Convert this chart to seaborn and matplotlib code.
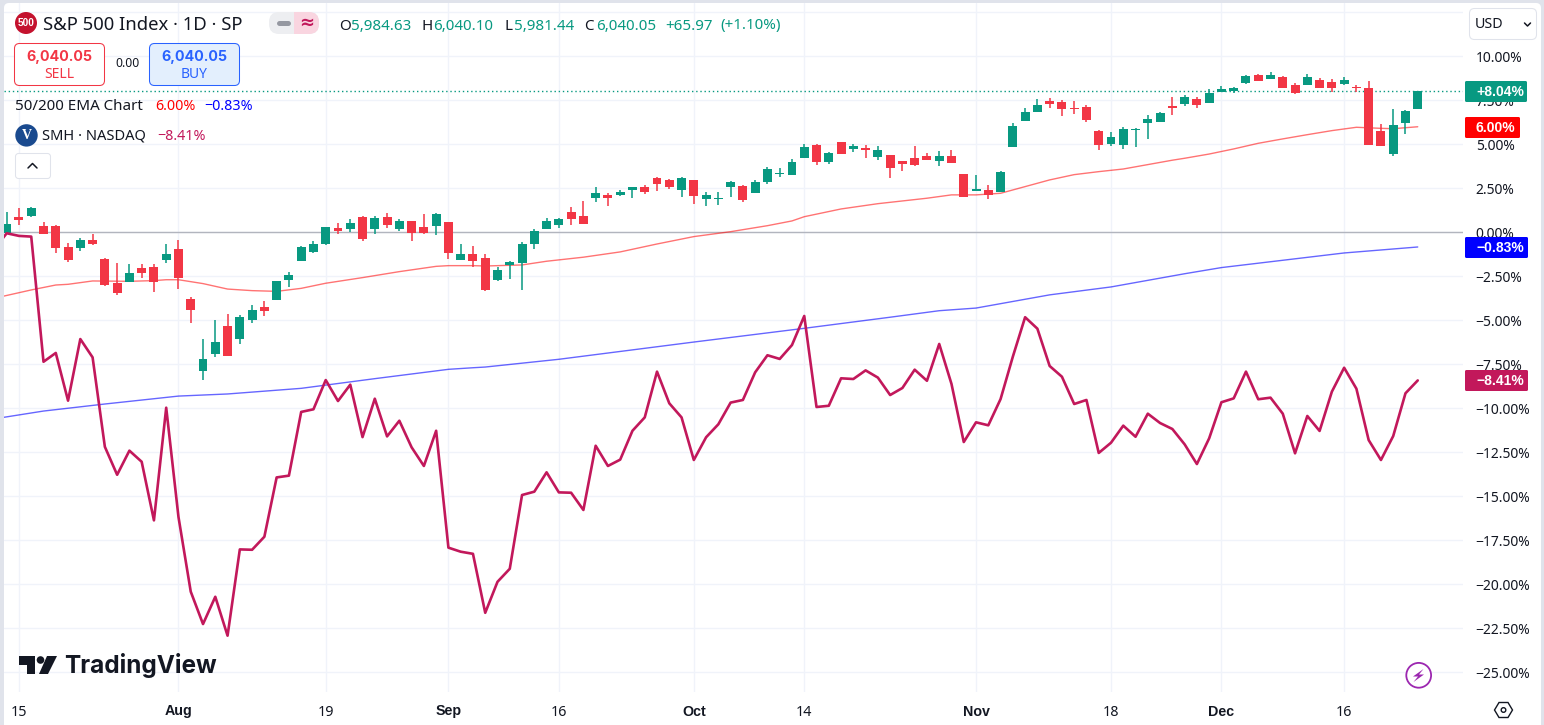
import matplotlib
matplotlib.use('Agg')
import matplotlib.pyplot as plt
import pandas as pd
import seaborn as sns
from matplotlib.patches import Circle, FancyBboxPatch, Polygon
from matplotlib.lines import Line2D
from matplotlib.transforms import IdentityTransform

# all values are % change (first bar sits under the left edge)
opens = [-0.02, 0.88, 0.93, 0.36, 0.36, -0.83, -0.89, -0.43, -1.51, -2.88, -2.82, -2.02, -1.97, -1.57, -0.94, -3.78,
         -7.88, -6.91, -5.32, -6.06, -4.98, -4.24, -3.84, -2.70, -1.63, -1.11, -0.66, 0.25, 0.19, 0.88, 0.19, 0.88,
         0.19, 0.65, 0.31, 0.36, 0.59, -1.57, -1.23, -1.45, -2.70, -1.85, -1.74, -0.66, 0.19, 0.42, 1.16, 0.93,
         1.95, 2.13, 2.13, 2.41, 2.58, 3.09, 2.98, 2.41, 2.98, 1.90, 1.90, 2.58, 2.64, 2.24, 2.86, 3.32,
         3.26, 4.23, 4.97, 4.00, 5.14, 4.74, 4.80, 4.28, 4.40, 4.06, 4.23, 4.34, 4.06, 4.34, 3.32, 2.35,
         2.41, 2.30, 4.85, 6.33, 6.84, 7.47, 7.41, 7.07, 7.13, 5.76, 5.02, 4.97, 5.84, 6.22, 6.27, 7.18,
         7.30, 7.58, 7.35, 7.98, 8.03, 8.49, 8.94, 8.72, 8.83, 8.38, 8.38, 8.66, 8.55, 8.43, 8.26, 8.20,
         5.76, 4.45, 6.22, 7.01]
highs = [1.16, 1.39, 1.44, 0.59, 0.42, -0.60, -0.32, -0.09, -1.45, -1.74, -1.80, -1.80, -1.80, -0.66, -0.43, -3.67,
         -6.06, -4.98, -4.64, -4.69, -4.13, -3.90, -2.76, -2.25, -0.77, -0.49, 0.31, 0.53, 0.76, 0.93, 0.93, 1.10,
         0.76, 0.65, 1.05, 1.10, 0.59, -0.66, -0.77, -1.23, -1.97, -1.63, -0.55, 0.19, 0.82, 0.82, 1.44, 1.78,
         2.58, 2.24, 2.41, 2.58, 2.69, 3.15, 3.03, 3.15, 2.98, 2.30, 2.30, 2.92, 2.69, 2.98, 3.72, 3.66,
         4.17, 5.02, 5.02, 4.57, 5.14, 5.02, 4.97, 4.91, 4.40, 4.06, 4.91, 4.51, 4.62, 4.68, 3.32, 3.26,
         2.69, 3.49, 6.22, 7.07, 7.58, 7.64, 7.52, 7.47, 7.24, 5.82, 5.70, 5.99, 5.93, 6.67, 6.84, 7.69,
         7.81, 7.69, 8.15, 8.32, 8.26, 8.94, 9.00, 9.11, 8.89, 8.49, 9.00, 8.77, 8.72, 8.83, 8.38, 8.60,
         6.16, 7.01, 6.95, 8.04]
lows = [-0.03, 0.42, 0.88, -0.09, -1.17, -1.68, -1.06, -0.72, -3.05, -3.56, -2.82, -2.59, -3.39, -1.74, -3.22, -5.15,
        -8.39, -7.08, -7.02, -6.34, -5.15, -4.75, -3.84, -3.10, -1.63, -1.17, -0.72, -0.09, 0.02, -0.49, -0.09, 0.25,
        0.08, -0.49, -0.09, -0.15, -1.51, -1.57, -1.97, -3.33, -2.76, -2.65, -3.27, -0.94, 0.19, 0.25, 0.42, 0.48,
        1.73, 1.50, 2.07, 1.95, 2.18, 2.35, 2.47, 2.01, 1.61, 1.50, 1.56, 2.01, 1.73, 2.24, 2.75, 3.15,
        3.26, 4.23, 3.83, 3.89, 4.45, 4.57, 4.23, 4.11, 3.09, 3.49, 3.77, 4.11, 3.77, 3.94, 2.01, 2.35,
        1.90, 2.30, 4.85, 6.33, 6.84, 7.07, 6.61, 6.73, 6.27, 4.68, 4.91, 4.74, 4.85, 5.31, 6.27, 6.67,
        7.18, 7.07, 7.35, 7.98, 7.92, 8.43, 8.60, 8.72, 8.20, 7.86, 8.38, 8.20, 7.98, 8.38, 7.98, 4.97,
        4.91, 4.34, 5.59, 7.01]
closes = [0.48, 0.70, 1.39, -0.09, -0.89, -1.57, -0.43, -0.66, -2.99, -3.44, -2.31, -2.31, -2.82, -1.23, -2.59, -4.41,
          -7.19, -6.23, -7.02, -4.81, -4.41, -4.47, -2.76, -2.42, -0.83, -0.66, 0.31, 0.08, 0.53, -0.38, 0.82, 0.42,
          0.65, -0.03, -0.03, 1.05, -1.17, -1.23, -1.63, -3.27, -2.14, -1.68, -0.66, 0.08, 0.65, 0.76, 0.76, 0.48,
          2.24, 1.95, 2.30, 2.58, 2.30, 2.75, 2.58, 3.09, 2.07, 2.13, 1.95, 2.86, 1.84, 2.86, 3.60, 3.38,
          4.00, 4.85, 4.00, 4.51, 4.45, 4.91, 4.68, 4.68, 3.66, 3.89, 3.83, 4.11, 4.34, 3.94, 2.01, 2.47,
          2.13, 3.43, 6.05, 6.84, 7.24, 7.30, 7.01, 7.01, 6.39, 4.97, 5.42, 5.88, 5.90, 6.44, 6.78, 7.07,
          7.69, 7.24, 7.92, 8.15, 8.20, 8.89, 8.60, 8.94, 8.20, 7.92, 8.83, 8.20, 8.20, 8.66, 8.20, 4.97,
          4.91, 6.10, 6.90, 8.04]

# SMH overlay, one value per bar, the first one is off the left edge
smh = [-0.94, -0.05, -0.20, -0.24, -7.35, -6.85, -9.56, -6.06, -7.10, -12.18, -13.77, -12.40, -13.03, -16.36, -9.96, -16.17,
       -20.41, -22.25, -20.70, -22.91, -18.01, -18.03, -17.29, -13.92, -13.82, -10.20, -10.05, -8.39, -9.58, -8.65, -11.63, -9.45,
       -11.59, -10.70, -12.21, -13.27, -11.27, -17.91, -18.14, -18.26, -21.61, -19.85, -19.11, -14.92, -14.73, -13.63, -14.77, -14.79,
       -15.77, -12.12, -13.27, -12.91, -11.27, -10.51, -7.91, -9.71, -10.51, -12.93, -11.64, -10.90, -9.67, -9.52, -7.95, -6.98,
       -7.19, -6.40, -4.75, -9.92, -9.85, -8.29, -8.33, -7.84, -8.25, -9.24, -8.84, -7.80, -8.43, -6.34, -8.61, -11.91,
       -10.79, -10.96, -9.47, -7.06, -4.82, -5.47, -7.59, -8.20, -9.75, -9.52, -12.53, -11.95, -10.98, -11.61, -10.30, -10.83,
       -11.17, -12.04, -13.16, -11.70, -9.65, -9.43, -7.91, -9.48, -9.39, -10.30, -12.55, -10.43, -11.28, -9.05, -7.69, -8.88,
       -11.80, -12.93, -11.57, -9.14, -8.41]

# EMAs read at the bars where the curve bends
ema50_bars = [-1, 2, 4, 5, 7, 10, 12, 13, 14, 15, 16, 18, 20, 22, 24, 26, 29, 32, 35, 36, 38, 39, 42, 44, 47, 50, 53, 56,
              59, 62, 64, 65, 68, 71, 75, 77, 79, 81, 83, 85, 87, 89, 91, 93, 95, 96, 98, 100, 102, 104, 106, 108, 110,
              112, 113, 115]
ema50 = [-3.74, -3.27, -2.99, -2.95, -2.76, -2.78, -2.74, -2.69, -2.69, -2.80, -2.91, -3.22, -3.31, -3.35, -3.18, -2.89,
         -2.57, -2.23, -1.93, -1.89, -1.89, -1.91, -1.85, -1.64, -1.41, -1.11, -0.66, -0.24, 0.04, 0.38, 0.65, 0.89, 1.33,
         1.63, 1.94, 2.13, 2.13, 2.22, 2.60, 2.98, 3.28, 3.45, 3.60, 3.85, 4.10, 4.21, 4.45, 4.74, 5.06, 5.31, 5.55, 5.78,
         5.97, 5.91, 5.89, 6.00]
ema200_bars = [-1, 3, 8, 14, 18, 24, 30, 36, 38, 39, 45, 56, 65, 72, 76, 79, 81, 85, 90, 96, 99, 109, 115]
ema200 = [-10.59, -10.15, -9.75, -9.30, -9.18, -8.86, -8.31, -7.78, -7.69, -7.65, -7.21, -6.23, -5.45, -4.82, -4.45,
          -4.30, -4.05, -3.55, -3.10, -2.35, -2.00, -1.17, -0.83]

tick_bars = [1, 14, 26, 36, 45, 56, 65, 79, 90, 99, 109]
tick_labels = ['15', 'Aug', '19', 'Sep', '16', 'Oct', '14', 'Nov', '18', 'Dec', '16']
month_labels = ['Aug', 'Sep', 'Oct', 'Nov', 'Dec']
pct_ticks = [-25, -22.5, -20, -17.5, -15, -12.5, -10, -7.5, -5, -2.5, 0, 2.5, 5, 7.5, 10, 12.5]
last_price_pct = 8.04

GREEN = '#089981'
RED = '#F23645'
PINK = '#C2185B'
INK = '#131722'
GRID = '#F0F3FA'
W, H = 1544, 725
FONT = 'Noto Sans'
BOLD = 'Liberation Sans'

sns.set_theme(style='white')
plt.rcParams['font.family'] = [FONT, 'DejaVu Sans']

candles = pd.DataFrame({'open': opens, 'high': highs, 'low': lows, 'close': closes})
candles['bar'] = candles.index
candles['color'] = [GREEN if c >= o else RED for o, c in zip(opens, closes)]
smh_df = pd.DataFrame({'bar': range(-1, len(smh) - 1), 'pct': smh})


def fx(x):
    return x / W


def fy(y):
    return 1 - y / H


def tx(x, y, s, **kw):
    kw.setdefault('va', 'center')
    kw.setdefault('color', INK)
    kw.setdefault('fontsize', 10)
    kw.setdefault('zorder', 5)
    return fig.text(fx(x), fy(y), s, **kw)


def pixel_patch(p, z=4):
    # interface bits are placed in screen pixels
    p.set_transform(IdentityTransform())
    p.set_zorder(z)
    fig.add_artist(p)


def box(x0, y0, x1, y1, face, edge='none', rad=0.0, lw=0.75, z=3):
    p = FancyBboxPatch((x0, H - y1), x1 - x0, y1 - y0, boxstyle='round,pad=0,rounding_size=%s' % rad,
                       facecolor=face, edgecolor=edge, linewidth=lw)
    pixel_patch(p, z)


def pixel_line(xs, ys, color, lw=1.0, z=4):
    fig.add_artist(Line2D(xs, [H - y for y in ys], color=color, linewidth=lw, zorder=z,
                          transform=IdentityTransform(),
                          solid_capstyle='round', solid_joinstyle='round'))


fig = plt.figure(figsize=(W / 100, H / 100), dpi=100, facecolor='#E0E3EB')
box(4, 3, 1541, 740, 'white', rad=5, z=-1)
ax = fig.add_axes([fx(4), fy(692), fx(1463 - 4), (692 - 3) / H])
ax.set_facecolor('none')

# grid and zero line
ax.set_xticks(tick_bars)
ax.set_xticklabels(tick_labels)
ax.set_yticks(pct_ticks)
ax.set_yticklabels([('%.2f%%' % v).replace('-', '\u2212') if v < 12 else '' for v in pct_ticks])
ax.grid(True, color=GRID, linewidth=1.0)
ax.set_axisbelow(True)
ax.yaxis.tick_right()
ax.tick_params(axis='y', length=0, pad=9.2, labelsize=10.0, labelcolor=INK)
ax.tick_params(axis='x', length=0, pad=9.0, labelsize=10.3, labelcolor=INK)
for lab in ax.get_xticklabels():
    if lab.get_text() in month_labels:
        lab.set_fontfamily(BOLD)
        lab.set_fontweight('bold')
for side in ax.spines:
    ax.spines[side].set_visible(False)
ax.axhline(0, color='#B2B5BE', linewidth=1.0, zorder=1)

# lines
sns.lineplot(x=ema50_bars, y=ema50, ax=ax, color='#FF0000', alpha=0.55, linewidth=1.0, errorbar=None, zorder=2)
sns.lineplot(x=ema200_bars, y=ema200, ax=ax, color='#0000FF', alpha=0.6, linewidth=1.0, errorbar=None, zorder=2)

# candles
ax.vlines(candles['bar'], candles['low'], candles['high'], colors=candles['color'], linewidth=1.1, zorder=3)
ax.bar(candles['bar'], candles['close'] - candles['open'], bottom=candles['open'], width=0.73,
       color=candles['color'], linewidth=0, zorder=3)

sns.lineplot(data=smh_df, x='bar', y='pct', ax=ax, color=PINK, linewidth=1.9, errorbar=None, zorder=4)
ax.axhline(last_price_pct, color=GREEN, linewidth=1.0, linestyle=(0, (1, 2)), zorder=2)

ax.set_xlabel('')
ax.set_ylabel('')
ax.set_xlim((4 - 6.7) / 12.27, (1463 - 6.7) / 12.27)
ax.set_ylim(-26.11, 13.03)

# header
pixel_patch(Circle((26, H - 23), 11, facecolor='#C4122E', edgecolor='none'))
tx(26, 23.5, '500', color='white', fontsize=7.3, family=BOLD, fontweight='bold', ha='center')
tx(43, 25, 'S&P 500 Index \u00b7 1D \u00b7 SP', fontsize=13.3)
box(269, 12, 319, 34, '#EDEEF1', rad=10)
box(294, 12, 319, 34, '#F9D5E0', rad=10, z=3.1)
box(294, 12, 305, 34, '#F9D5E0', rad=0, z=3.2)
pixel_line([278.5, 287.5], [23, 23], '#9598A1', lw=3.6)
tx(306.5, 23, '\u2248', color=PINK, fontsize=13, ha='center', fontweight='bold')

ohlc_parts = [(339, 'O', INK), (351.5, '5,984.63', GREEN), (421, 'H', INK), (433.5, '6,040.10', GREEN),
              (505, 'L', INK), (514, '5,981.44', GREEN), (584.5, 'C', INK), (596, '6,040.05', GREEN),
              (665, '+65.97', GREEN), (720, '(+1.10%)', GREEN)]
for x, s, c in ohlc_parts:
    tx(x, 29.5, s, color=c, fontsize=10.9, va='baseline')

box(14.5, 43.5, 104.5, 85.5, 'white', RED, rad=5)
tx(59.5, 57, '6,040.05', color=RED, family='Inter', fontweight='bold', fontsize=10.3, ha='center')
tx(59.5, 74.5, 'SELL', color=RED, fontsize=10, ha='center')
tx(127, 63.5, '0.00', fontsize=8.8, ha='center')
box(149.5, 43.5, 239.5, 85.5, '#E3EFFD', '#2962FF', rad=5)
tx(194.5, 57, '6,040.05', color='#2962FF', family='Inter', fontweight='bold', fontsize=10.3, ha='center')
tx(194.5, 74.5, 'BUY', color='#2962FF', fontsize=10, ha='center')

tx(15.5, 106.5, '50/200 EMA Chart', fontsize=10.9)
tx(155, 106.5, '6.00%', color='#FF0000', fontsize=10.3)
tx(204, 106.5, '\u22120.83%', color='#0000FF', fontsize=10.3)

pixel_patch(Circle((26.5, H - 135.4), 11.2, facecolor='#1A4A8F', edgecolor='none'))
tx(26.5, 135.5, 'V', color='white', fontsize=10, fontweight='bold', ha='center', family='Liberation Serif')
tx(42.5, 136, 'SMH \u00b7 NASDAQ', fontsize=10.6)
tx(157, 136, '\u22128.41%', color=PINK, fontsize=10.3)

box(15.5, 153.5, 50.5, 178.5, 'white', '#E0E3EB', rad=3)
pixel_line([28, 32.5, 37], [168, 163.5, 168], INK, lw=1.1)

# currency button
box(1469.5, 8.5, 1536.5, 39.5, 'white', '#E0E3EB', rad=5)
tx(1474.5, 24.5, 'USD', fontsize=10.3)
pixel_line([1524.5, 1527.5, 1530.5], [23, 26, 23], INK, lw=1.1)

# value badges on the price scale
badges = [(81, 102, 1527, GREEN, '+8.04%'), (117, 138, 1520, '#FF0000', '6.00%'),
          (237, 258, 1528, '#0000FF', '\u22120.83%'), (370, 391, 1528, PINK, '\u22128.41%')]
for y0, y1, x1, c, s in badges:
    box(1465, y0, x1, y1, c, rad=1.5, z=6)
    tx(1476, (y0 + y1) / 2 + 0.5, s, color='white', fontsize=10, family=BOLD, fontweight='bold', zorder=7)

# logo
pixel_patch(Polygon([(19, H - 656), (35, H - 656), (35, H - 674), (26.5, H - 674), (26.5, H - 664.5), (19, H - 664.5)],
                    facecolor=INK, edgecolor='none'))
pixel_patch(Circle((40.5, H - 660), 3.8, facecolor=INK, edgecolor='none'))
pixel_patch(Polygon([(47, H - 656), (57, H - 656), (48, H - 674), (39, H - 674)], facecolor=INK, edgecolor='none'))
tx(64.5, 666, 'TradingView', family='Inter', fontweight='bold', fontsize=17.5)

# lightning badge and settings hexagon
pixel_patch(Circle((1418.7, H - 675.3), 12.4, facecolor='white', edgecolor='#9C27B0', linewidth=1.3))
bolt = [(1423.5, 669), (1413, 676.5), (1418, 676.5), (1413.5, 682), (1424, 674.5), (1419, 674.5)]
pixel_patch(Polygon([(x, H - y) for x, y in bolt], facecolor='#9C27B0', edgecolor='none'))
hex_pts = [(1494.5, 710), (1499, 702.5), (1508, 702.5), (1512.5, 710), (1508, 717.5), (1499, 717.5)]
pixel_patch(Polygon([(x, H - y) for x, y in hex_pts], facecolor='white', edgecolor=INK, linewidth=1.0))
pixel_patch(Circle((1503.5, H - 710), 2.3, facecolor='white', edgecolor=INK, linewidth=1.0))

fig.savefig('out.png', dpi=100, facecolor=fig.get_facecolor())
